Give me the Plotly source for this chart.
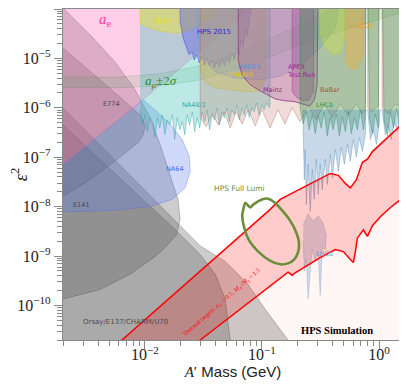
import math
import plotly.graph_objects as go

# ---- exclusion regions (A' mass in GeV, eps^2) ----
ae_mass = [0.001, 0.002, 0.00967, 0.0794, 0.12, 0.12, 0.001]
ae_eps2 = [1.8e-8, 7.2e-8, 1.46e-6, 1.0e-4, 2.3e-4, 1e-3, 1e-3]

amu_lo_mass = [0.001, 0.002, 0.00614, 0.0135, 0.0297, 0.0794, 0.212, 0.568, 1.61, 2.0]
amu_lo_eps2 = [2.55e-6, 2.55e-6, 2.55e-6, 2.8e-6, 3.68e-6, 7.4e-6, 1.87e-5, 4.1e-5, 8.7e-5, 1.1e-4]
amu_hi_mass = [0.001, 0.002, 0.00614, 0.0135, 0.0297, 0.0794, 0.174, 0.383, 0.6]
amu_hi_eps2 = [4.2e-6, 4.2e-6, 4.2e-6, 4.9e-6, 7.1e-6, 1.63e-5, 3.8e-5, 1.0e-4, 1.8e-4]

e141_mass = [0.001, 0.002, 0.00341, 0.00557, 0.00826, 0.0111, 0.0135, 0.0164, 0.0192, 0.0200,
             0.0186, 0.0157, 0.0125, 0.00748, 0.00414, 0.002, 0.001]
e141_eps2 = [1e-3, 1.05e-4, 3.0e-5, 8.5e-6, 2.31e-6, 6.3e-7, 1.81e-7, 4.5e-8, 1.4e-8, 5.5e-9,
             2.7e-9, 1.7e-9, 1.02e-9, 4.3e-10, 2.1e-10, 1.35e-10, 1.0e-10]

e774_mass = [0.001, 0.002, 0.00414, 0.00911, 0.0101, 0.00967, 0.00876, 0.00614, 0.00341, 0.002, 0.001]
e774_eps2 = [6e-5, 1.63e-5, 3.68e-6, 7.2e-7, 4.5e-7, 2.86e-7, 1.98e-7, 1.0e-7, 3.5e-8, 1.6e-8, 8e-9]

e137_mass = [0.001, 0.002, 0.0200, 0.0297, 0.0485, 0.0748, 0.106, 0.167, 0.212, 0.212, 0.001]
e137_eps2 = [3.5e-6, 1.0e-6, 4.1e-9, 1.6e-9, 7.8e-10, 2.8e-10, 8.5e-11, 2.0e-11, 8e-12, 1e-12, 1e-12]

charm_mass = [0.001, 0.002, 0.0164, 0.0297, 0.0399, 0.0485, 0.0535, 0.056, 0.056, 0.001]
charm_eps2 = [1.6e-6, 4.5e-7, 4.3e-9, 1.07e-9, 4.3e-10, 1.35e-10, 2.0e-11, 8e-12, 1e-12, 1e-12]

na64_mass = [0.001, 0.002, 0.00414, 0.00967, 0.0122, 0.0164, 0.0208, 0.0239, 0.0244, 0.0221,
             0.0170, 0.0111, 0.00505, 0.002, 0.001]
na64_eps2 = [1.8e-8, 7.2e-8, 2.86e-7, 1.46e-6, 9.1e-7, 4.7e-7, 2.28e-7, 1.05e-7, 5.2e-8, 2.4e-8,
             1.4e-8, 1.0e-8, 8.3e-9, 7.6e-9, 7.5e-9]

na48_mass = [0.0091, 0.00956, 0.0100, 0.0105, 0.0111, 0.0116, 0.0122, 0.0128, 0.0134, 0.0141,
             0.0148, 0.0156, 0.0163, 0.0172, 0.0180, 0.0189, 0.0199, 0.0209, 0.0219, 0.0230,
             0.0241, 0.0254, 0.0266, 0.0280, 0.0294, 0.0308, 0.0324, 0.0340, 0.0357, 0.0375,
             0.0393, 0.0413, 0.0434, 0.0455, 0.0478, 0.0502, 0.0527, 0.0553, 0.0581, 0.0610,
             0.0641, 0.0673, 0.0706, 0.0742, 0.0779, 0.0818, 0.0858, 0.0901, 0.0946, 0.0994,
             0.104, 0.110, 0.115, 0.117, 0.117, 0.0091]
na48_eps2 = [9.1e-7, 4.5e-7, 7.2e-7, 3.3e-7, 6.3e-7, 5.2e-7, 2.5e-7, 6.3e-7, 3.9e-7, 7.2e-7,
             2.86e-7, 5.7e-7, 4.5e-7, 7.2e-7, 2.28e-7, 6.3e-7, 3.6e-7, 5.2e-7, 2.86e-7, 7.2e-7,
             4.5e-7, 8.3e-7, 3.3e-7, 6.3e-7, 3.9e-7, 8.3e-7, 5.2e-7, 9.1e-7, 3.6e-7, 7.2e-7,
             5.7e-7, 1.0e-6, 4.5e-7, 8.3e-7, 6.3e-7, 1.0e-6, 5.2e-7, 9.1e-7, 7.2e-7, 1.15e-6,
             5.7e-7, 1.0e-6, 7.2e-7, 1.15e-6, 6.3e-7, 1.0e-6, 8.3e-7, 1.26e-6, 7.2e-7, 1.15e-6,
             9.1e-7, 1.26e-6, 1.0e-6, 1.15e-6, 1e-3, 1e-3]

kloe1_mass = [0.0091, 0.0091, 0.0111, 0.0135, 0.0164, 0.0200, 0.0244, 0.0297, 0.0361, 0.0424, 0.0424]
kloe1_eps2 = [1e-3, 5.0e-5, 4.1e-5, 3.6e-5, 3.3e-5, 3.3e-5, 3.8e-5, 4.8e-5, 6.6e-5, 1.0e-4, 1e-3]

hps15_mass = [0.0200, 0.0200, 0.0212, 0.0226, 0.0239, 0.0254, 0.0264, 0.0280, 0.0291, 0.0309,
              0.0321, 0.0341, 0.0354, 0.0376, 0.0391, 0.0415, 0.0432, 0.0458, 0.0477, 0.0506,
              0.0526, 0.0558, 0.0580, 0.0615, 0.0640, 0.0666, 0.0692, 0.0720, 0.0748, 0.0778,
              0.081, 0.081]
hps15_eps2 = [1e-3, 5.5e-5, 2.6e-5, 1.63e-5, 1.18e-5, 1.35e-5, 9.3e-6, 1.18e-5, 8.1e-6, 1.07e-5,
              7.4e-6, 1.03e-5, 7.1e-6, 9.3e-6, 6.4e-6, 8.9e-6, 6.7e-6, 9.8e-6, 7.1e-6, 1.07e-5,
              8.1e-6, 1.29e-5, 9.3e-6, 1.63e-5, 1.18e-5, 2.4e-5, 1.71e-5, 3.8e-5, 2.85e-5, 6.0e-5,
              1.0e-4, 1e-3]

phenix_mass = [0.0297, 0.0297, 0.0327, 0.0399, 0.0535, 0.0720, 0.0929, 0.106, 0.110]
phenix_eps2 = [1e-3, 5.9e-6, 3.35e-6, 2.55e-6, 2.31e-6, 2.11e-6, 2.11e-6, 3.68e-6, 1e-3]

hades_mass = [0.0269, 0.0286, 0.0327, 0.0399, 0.0591, 0.0966, 0.143, 0.212, 0.314, 0.423, 0.515]
hades_eps2 = [1e-3, 2.4e-5, 9.3e-6, 5.4e-6, 4.0e-6, 3.68e-6, 4.4e-6, 7.1e-6, 1.63e-5, 4.1e-5, 1e-3]

mainz_mass = [0.0627, 0.0627, 0.0678, 0.0794, 0.0929, 0.110, 0.129, 0.157, 0.191, 0.234, 0.258,
              0.280, 0.296, 0.302]
mainz_eps2 = [1e-3, 9.3e-6, 4.6e-6, 2.93e-6, 2.31e-6, 1.84e-6, 1.52e-6, 1.39e-6, 1.33e-6, 1.15e-6,
              1.1e-6, 1.46e-6, 2.93e-6, 1e-3]

apex_mass = [0.181, 0.181, 0.199, 0.225, 0.253, 0.274, 0.279]
apex_eps2 = [1e-3, 2.11e-6, 1.61e-6, 1.39e-6, 1.46e-6, 2.11e-6, 1e-3]

kloe2_mass = [0.302, 0.314, 0.347, 0.405, 0.466, 0.505, 0.515]
kloe2_eps2 = [1e-3, 3.0e-5, 1.63e-5, 1.18e-5, 1.27e-5, 2.4e-5, 1e-3]

kloe3_mass = [0.515, 0.515, 0.556, 0.616, 0.678, 0.720, 0.734]
kloe3_eps2 = [1e-3, 9.3e-6, 6.4e-6, 5.9e-6, 7.1e-6, 1.18e-5, 1e-3]

babar_mass = [0.0297, 0.0297, 0.0334, 0.0376, 0.0423, 0.0477, 0.0535, 0.0601, 0.0678, 0.0763,
              0.0876, 0.100, 0.117, 0.137, 0.157, 0.181, 0.212, 0.248, 0.291, 0.340,
              0.399, 0.466, 0.547, 0.640, 0.720, 0.764, 0.77, 0.80, 0.80, 0.877,
              0.987, 1.0, 1.06, 1.06, 1.2, 1.38, 1.61, 1.8, 1.8]
babar_eps2 = [1e-3, 6.3e-7, 4.1e-7, 7.9e-7, 4.5e-7, 8.3e-7, 3.9e-7, 8.3e-7, 4.7e-7, 9.1e-7,
              4.3e-7, 9.1e-7, 3.9e-7, 9.1e-7, 4.7e-7, 1.0e-6, 5.2e-7, 1.1e-6, 5.7e-7, 1.2e-6,
              6.3e-7, 1.2e-6, 6.9e-7, 1.2e-6, 7.5e-7, 1.0e-6, 1e-3, 1e-3, 1.0e-6, 8.3e-7,
              1.1e-6, 1e-3, 1e-3, 1.0e-6, 7.5e-7, 1.2e-6, 9.1e-7, 9.1e-7, 1e-3]

lhcb_mass = [0.212, 0.212, 0.225, 0.239, 0.253, 0.269, 0.285, 0.302, 0.320, 0.340,
             0.361, 0.383, 0.405, 0.431, 0.458, 0.485, 0.515, 0.547, 0.580, 0.615,
             0.652, 0.692, 0.734, 0.764, 0.77, 0.80, 0.827, 0.877, 0.930, 0.987,
             1.0, 1.06, 1.10, 1.18, 1.25, 1.33, 1.41, 1.49, 1.61, 1.8, 1.8]
lhcb_eps2 = [1e-3, 1.0e-6, 4.7e-7, 8.3e-7, 3.6e-7, 7.2e-7, 3.0e-7, 6.9e-7, 3.9e-7, 8.3e-7,
             2.7e-7, 6.3e-7, 3.6e-7, 7.5e-7, 2.7e-7, 6.6e-7, 3.3e-7, 8.3e-7, 3.0e-7, 6.3e-7,
             3.6e-7, 9.1e-7, 3.6e-7, 6.9e-7, 1e-3, 1e-3, 6.3e-7, 3.0e-7, 7.5e-7, 3.9e-7,
             1e-3, 1e-3, 5.7e-7, 2.7e-7, 8.3e-7, 3.9e-7, 1.0e-6, 4.3e-7, 9.1e-7, 9.1e-7, 1e-3]

lhcbb_mass = [0.225, 0.225, 0.230, 0.234, 0.239, 0.248, 0.258, 0.269, 0.279, 0.291,
              0.302, 0.314, 0.327, 0.347, 0.361, 0.383, 0.399, 0.423, 0.449, 0.476,
              0.505, 0.536, 0.568, 0.603, 0.640, 0.678, 0.720, 0.764, 0.77, 0.80,
              0.843, 0.894, 0.949, 1.0, 1.02, 1.06, 1.13, 1.20, 1.27, 1.35,
              1.43, 1.52, 1.61, 1.8, 1.8]
lhcbb_eps2 = [9.1e-7, 3.6e-7, 3.5e-8, 1.43e-7, 1.1e-8, 7.2e-8, 8.0e-9, 5.7e-8, 1.4e-8, 9.1e-8,
              1.75e-8, 7.2e-8, 2.2e-8, 9.1e-8, 2.8e-8, 1.13e-7, 3.8e-8, 1.43e-7, 5.2e-8, 1.57e-7,
              7.2e-8, 1.81e-7, 8.3e-8, 2.28e-7, 1.0e-7, 2.5e-7, 1.3e-7, 2.86e-7, 9.1e-7, 9.1e-7,
              2.28e-7, 3.6e-7, 1.81e-7, 4.5e-7, 9.1e-7, 9.1e-7, 2.86e-7, 4.5e-7, 2.28e-7, 5.2e-7,
              3.3e-7, 5.7e-7, 4.5e-7, 4.5e-7, 9.1e-7]

island_mass = [0.225, 0.248, 0.274, 0.302, 0.333, 0.354, 0.347, 0.327, 0.314, 0.302, 0.285,
               0.269, 0.258, 0.248, 0.239, 0.230, 0.225]
island_eps2 = [4.3e-9, 7.2e-9, 5.0e-9, 6.6e-9, 4.5e-9, 2.6e-9, 1.35e-9, 1.5e-9, 1.6e-10, 1.23e-9,
               7.8e-10, 1.35e-9, 4.9e-10, 1.35e-10, 8.5e-10, 4.9e-10, 2.1e-9]

# thermal relic target band
th_up_mass = [0.00414, 0.00639, 0.0361, 0.117, 0.143, 0.212, 0.302, 0.383, 0.449, 0.515,
              0.568, 0.640, 0.720, 0.795, 0.877, 1.13, 1.38, 1.61, 1.8]
th_up_eps2 = [8.1e-12, 2.0e-11, 7.4e-10, 8.7e-9, 1.4e-8, 2.3e-8, 3.5e-8, 4.7e-8, 4.3e-8, 2.95e-8,
              2.4e-8, 3.5e-8, 7.9e-8, 9.1e-8, 1.3e-7, 2.28e-7, 3.6e-7, 4.9e-7, 6.3e-7]
th_lo_mass = [0.0177, 0.0297, 0.167, 0.181, 0.195, 0.314, 0.423, 0.495, 0.568, 0.603,
              0.627, 0.652, 0.734, 0.795, 0.877, 1.03, 1.25, 1.61, 1.8]
th_lo_eps2 = [8.1e-12, 2.0e-11, 4.7e-10, 4.1e-10, 4.7e-10, 9.3e-10, 1.35e-9, 1.23e-9, 8.5e-10, 7.4e-10,
              1.23e-9, 2.3e-9, 3.4e-9, 2.5e-9, 4.1e-9, 6.3e-9, 9.6e-9, 1.52e-8, 1.9e-8]

# HPS full luminosity reach contour
lumi_mass = [0.0692, 0.0720, 0.0794, 0.0842, 0.100, 0.113, 0.129, 0.151, 0.174, 0.195, 0.207,
             0.203, 0.188, 0.167, 0.143, 0.117, 0.0929, 0.0778, 0.0706, 0.0678, 0.0692]
lumi_eps2 = [8.7e-9, 1.2e-8, 9.6e-9, 1.1e-8, 1.4e-8, 1.45e-8, 1.2e-8, 8.0e-9, 5.2e-9, 3.1e-9, 1.86e-9,
             1.18e-9, 8.5e-10, 7.1e-10, 6.8e-10, 8.1e-10, 1.23e-9, 2.05e-9, 3.7e-9, 6.6e-9, 8.7e-9]

y_ticks = [1e-10, 1e-9, 1e-8, 1e-7, 1e-6, 1e-5, 1e-4]
y_ticktext = ["10<sup>−10</sup>", "10<sup>−9</sup>", "10<sup>−8</sup>", "10<sup>−7</sup>",
              "10<sup>−6</sup>", "10<sup>−5</sup>", "10<sup>−4</sup>"]
x_ticks = [0.01, 0.1, 1]
x_ticktext = ["10<sup>−2</sup>", "10<sup>−1</sup>", "10<sup>0</sup>"]

fig = go.Figure()


def region(mass, eps2, fill, line, width=0.6):
    fig.add_trace(go.Scatter(x=mass, y=eps2, mode="lines", fill="toself", fillcolor=fill,
                             line=dict(color=line, width=width), hoverinfo="skip", showlegend=False))


gray_fill = "rgba(90,90,90,0.3)"
gray_line = "rgba(70,70,70,0.55)"
region(e137_mass, e137_eps2, gray_fill, gray_line)
region(charm_mass, charm_eps2, gray_fill, gray_line)
region(e141_mass, e141_eps2, gray_fill, gray_line)
region(e774_mass, e774_eps2, gray_fill, gray_line)
region(na64_mass, na64_eps2, "rgba(100,130,240,0.3)", "rgba(80,110,230,0.6)")
region(ae_mass, ae_eps2, "rgba(255,110,190,0.33)", "rgba(255,110,190,0.5)")
region(amu_lo_mass + amu_hi_mass[::-1], amu_lo_eps2 + amu_hi_eps2[::-1],
       "rgba(40,160,40,0.13)", "rgba(40,140,40,0.3)")
region(na48_mass, na48_eps2, "rgba(64,190,180,0.35)", "rgba(40,160,160,0.7)")
region(kloe1_mass, kloe1_eps2, "rgba(250,235,0,0.35)", "rgba(220,200,0,0.6)")
region(hps15_mass, hps15_eps2, "rgba(70,70,230,0.35)", "rgba(50,50,210,0.7)")
region(phenix_mass, phenix_eps2, "rgba(230,210,60,0.35)", "rgba(200,180,40,0.6)")
region(hades_mass, hades_eps2, "rgba(120,170,230,0.3)", "rgba(90,150,220,0.6)")
region(mainz_mass, mainz_eps2, "rgba(160,60,170,0.3)", "rgba(120,40,140,0.8)", 1)
region(apex_mass, apex_eps2, "rgba(140,40,160,0.3)", "rgba(120,30,140,0.7)")
region(babar_mass, babar_eps2, "rgba(190,110,100,0.25)", "rgba(170,90,80,0.6)")
region(lhcb_mass, lhcb_eps2, "rgba(50,150,70,0.35)", "rgba(40,140,60,0.7)")
region(lhcbb_mass, lhcbb_eps2, "rgba(70,130,180,0.3)", "rgba(70,130,180,0.6)")
region(kloe2_mass, kloe2_eps2, "rgba(210,230,60,0.35)", "rgba(190,210,40,0.6)")
region(kloe3_mass, kloe3_eps2, "rgba(255,170,40,0.35)", "rgba(240,150,30,0.6)")
region(island_mass, island_eps2, "rgba(70,130,180,0.25)", "rgba(70,130,180,0.4)")

# thermal target band and the faint region below it
region(th_up_mass + th_lo_mass[::-1], th_up_eps2 + th_lo_eps2[::-1],
       "rgba(255,0,0,0.2)", "rgba(0,0,0,0)", 0)
region(th_lo_mass + [1.8, 0.0177], th_lo_eps2 + [1e-12, 1e-12],
       "rgba(255,0,0,0.035)", "rgba(0,0,0,0)", 0)
for m, e in [(th_up_mass, th_up_eps2), (th_lo_mass, th_lo_eps2)]:
    fig.add_trace(go.Scatter(x=m, y=e, mode="lines", line=dict(color="red", width=1.5),
                             hoverinfo="skip", showlegend=False))

fig.add_trace(go.Scatter(x=lumi_mass, y=lumi_eps2, mode="lines",
                         line=dict(color="#6b8e3a", width=2.6, shape="spline", smoothing=0.6),
                         hoverinfo="skip", showlegend=False))

sans = "DejaVu Sans"
serif = "Liberation Serif"
labels = [
    ("<i>a</i><sub>e</sub>", 0.00457, 6.0e-5, "#ff40a0", 15, serif, 0),
    ("<i>a</i><sub><i>μ</i></sub>±2<i>σ</i>", 0.0138, 3.4e-6, "#2e8b2e", 13, serif, 0),
    ("KLOE", 0.0146, 5.7e-5, "#ece000", 6.5, sans, 0),
    ("HPS 2015", 0.0391, 3.4e-5, "#2828d8", 7, sans, 0),
    ("HADES", 0.0778, 6.7e-6, "#4f8fe0", 6.5, sans, 0),
    ("PHENIX", 0.0666, 4.6e-6, "#e0c800", 6.5, sans, 0),
    ("Mainz", 0.124, 2.31e-6, "#8a2b8a", 6.5, sans, 0),
    ("BaBar", 0.383, 2.31e-6, "#b4503c", 6.5, sans, 0),
    ("LHCb", 0.340, 1.15e-6, "#2e9a3e", 6.5, sans, 0),
    ("KLOE", 0.764, 4.5e-5, "#f0a020", 6.5, sans, 0),
    ("NA48/2", 0.0264, 1.15e-6, "#3aa8a0", 6.5, sans, 0),
    ("E774", 0.0052, 1.2e-6, "#4a4a4a", 6.5, sans, 0),
    ("NA64", 0.0181, 5.7e-8, "#4a6ae8", 6.5, sans, 0),
    ("E141", 0.0029, 1.1e-8, "#4a4a4a", 6.5, sans, 0),
    ("Orsay/E137/CHARM/U70", 0.0068, 4.6e-11, "#4a4a4a", 7, sans, 0),
    ("LHCb", 0.340, 1.12e-9, "#7aa0d0", 6.5, sans, 0),
    ("HPS Full Lumi", 0.0640, 2.3e-8, "#6b8e3a", 7.5, sans, 0),
    ("<b>HPS Simulation</b>", 0.44, 3.1e-11, "black", 10.5, serif, 0),
    ("Thermal targets: <i>α</i><sub>D</sub> = 0.5, <i>M</i><sub>A′</sub>/<i>M</i><sub>χ</sub> = 1.5",
     0.045, 1.2e-10, "red", 6.3, serif, -41),
]
for text, m, e, col, size, fam, ang in labels:
    fig.add_annotation(x=math.log10(m), y=math.log10(e), xref="x", yref="y", text=text,
                       showarrow=False, textangle=ang, font=dict(color=col, size=size, family=fam))
fig.add_annotation(x=math.log10(0.157), y=math.log10(5.6e-6), xref="x", yref="y",
                   text="APEX<br>Test Run", showarrow=False, xanchor="left", align="left",
                   font=dict(color="#9b1f9b", size=6.5, family=sans))

x_minor = [k * d for d in (0.001, 0.01, 0.1, 1) for k in range(2, 10) if k * d <= 1.6]
y_minor = [k * d for d in (1e-11, 1e-10, 1e-9, 1e-8, 1e-7, 1e-6, 1e-5) for k in range(2, 10)]

axis_common = dict(type="log", showgrid=False, zeroline=False, ticks="outside", ticklen=8,
                   tickcolor="#888", linecolor="#888", linewidth=1.3, mirror=True, automargin=False,
                   tickfont=dict(family=serif, size=16, color="#222"))
fig.update_xaxes(range=[math.log10(0.002), math.log10(1.6)], tickvals=x_ticks, ticktext=x_ticktext,
                 minor=dict(tickvals=x_minor, ticks="outside", ticklen=5, tickcolor="#888"),
                 ticklabelstandoff=-8,
                 title=dict(text='<span style="font-family:Liberation Serif"><i>A</i>′</span> Mass (GeV)',
                            font=dict(family="Liberation Sans", size=15, color="#222"), standoff=0),
                 **axis_common)
fig.update_yaxes(range=[math.log10(2e-11), -4], tickvals=y_ticks, ticktext=y_ticktext,
                 minor=dict(tickvals=y_minor, ticks="outside", ticklen=5, tickcolor="#888"),
                 title=dict(text="<i>ε</i><sup>2</sup>", font=dict(family=serif, size=18, color="#222"),
                            standoff=4),
                 **axis_common)
# the page body adds an 8 px offset, so margins are set to land the frame where the reference has it
fig.update_layout(width=407, height=385, margin=dict(l=55, r=12, t=1, b=53),
                  plot_bgcolor="white", paper_bgcolor="white", showlegend=False)
fig.write_html("out.html")
